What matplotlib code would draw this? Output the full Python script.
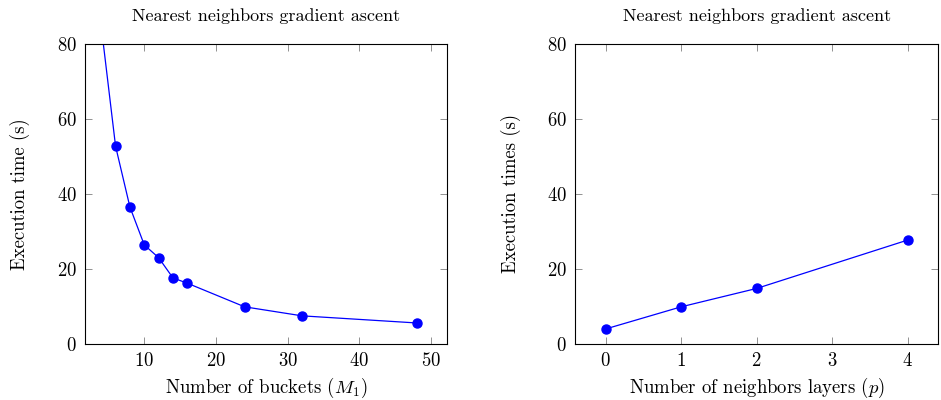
import matplotlib
matplotlib.use('Agg')
import matplotlib.pyplot as plt

plt.rcParams['font.family'] = 'serif'
plt.rcParams['font.serif'] = ['cmr10']
plt.rcParams['mathtext.fontset'] = 'cm'
plt.rcParams['axes.formatter.use_mathtext'] = True
plt.rcParams['axes.unicode_minus'] = False

# left panel: execution time vs number of buckets
buckets = [4, 6, 8, 10, 12, 14, 16, 24, 32, 48]
time_buckets = [84.7, 52.7, 36.5, 26.4, 23.0, 17.6, 16.2, 9.9, 7.5, 5.6]

# right panel: execution time vs neighbor layers
layers = [0, 1, 2, 4]
time_layers = [4.0, 9.9, 14.8, 27.7]

title = 'Nearest neighbors gradient ascent'

fig = plt.figure(figsize=(9.41, 4.0), dpi=100)
W, H = 941, 400
ax1 = fig.add_axes([85 / W, 1 - 344 / H, (447 - 85) / W, (344 - 43.7) / H])
ax2 = fig.add_axes([575.3 / W, 1 - 344 / H, (938 - 575.3) / W, (344 - 43.7) / H])

blue = (0, 0, 1)
for ax in (ax1, ax2):
    ax.set_ylim(0, 80)
    ax.set_yticks([0, 20, 40, 60, 80])
    ax.tick_params(direction='in', top=True, right=True, length=5, width=0.6,
                   color='#808080', labelsize=13.5, pad=6)
    for s in ax.spines.values():
        s.set_linewidth(0.8)
    ax.set_title(title, fontsize=13, pad=16)

ax1.plot(buckets, time_buckets, '-o', color=blue, lw=0.9, ms=6.5)
ax1.set_xlim(1.74, 52.2)
ax1.set_xticks([10, 20, 30, 40, 50])
ax1.set_xlabel(r'Number of buckets ($M_1$)', fontsize=13.5, labelpad=4)
ax1.set_ylabel('Execution time (s)', fontsize=13.5, labelpad=19)

ax2.plot(layers, time_layers, '-o', color=blue, lw=0.9, ms=6.5)
ax2.set_xlim(-0.4, 4.4)
ax2.set_xticks([0, 1, 2, 3, 4])
ax2.set_xlabel(r'Number of neighbors layers ($p$)', fontsize=13.5, labelpad=4)
ax2.set_ylabel('Execution times (s)', fontsize=13.5, labelpad=19)

fig.savefig('out.png', dpi=100)
